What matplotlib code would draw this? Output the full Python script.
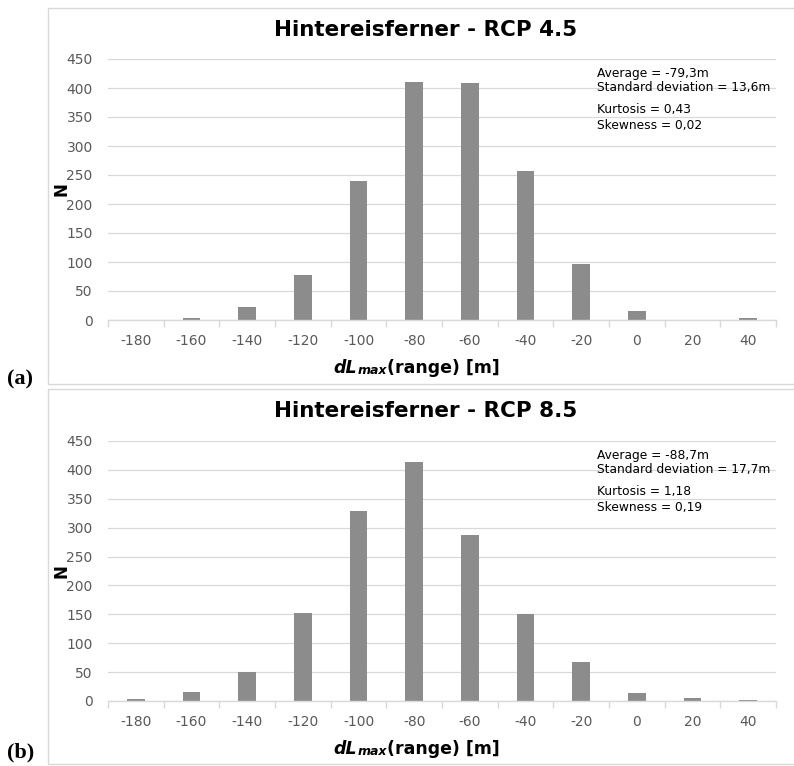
import matplotlib.pyplot as plt
from matplotlib.patches import Rectangle
import numpy as np

# dL_max class centres [m] and number of runs per class
bins = [-180, -160, -140, -120, -100, -80, -60, -40, -20, 0, 20, 40]
counts_rcp45 = [0, 3, 22, 77, 239, 410, 409, 257, 97, 15, 0, 4]
counts_rcp85 = [3, 15, 50, 153, 328, 414, 288, 150, 67, 14, 6, 2]

titles = ["Hintereisferner - RCP 4.5", "Hintereisferner - RCP 8.5"]
stats_top = [["Average = -79,3m", "Standard deviation = 13,6m"],
             ["Average = -88,7m", "Standard deviation = 17,7m"]]
stats_bottom = [["Kurtosis = 0,43", "Skewness = 0,02"],
                ["Kurtosis = 1,18", "Skewness = 0,19"]]
panel_tags = ["(a)", "(b)"]
yticks = list(range(0, 451, 50))

W, H = 794, 766
fig = plt.figure(figsize=(W / 100, H / 100), dpi=100)

BAR = "#8c8c8c"
GRID = "#d9d9d9"
TICK = "#595959"


def fx(px):
    return px / W


def fy(py):
    return 1 - py / H


# panel layout in pixels: (box top, box bottom, axes top, axes bottom, tag y)
layout = [(8, 384, 59, 320, 379), (389, 764, 441, 701, 752)]
series = [counts_rcp45, counts_rcp85]

ax_left, ax_right = 108, 776

for i, (btop, bbot, atop, abot, tag_y) in enumerate(layout):
    # chart area frame
    fig.patches.append(Rectangle((fx(47.5), fy(bbot)), fx(800 - 47.5), (bbot - btop) / H,
                                 transform=fig.transFigure, fill=False,
                                 edgecolor=GRID, lw=1.0))

    ax = fig.add_axes([fx(ax_left), fy(abot), fx(ax_right - ax_left), (abot - atop) / H])
    x = np.arange(len(bins))
    ax.bar(x, series[i], width=0.32, color=BAR, zorder=3)
    ax.set_xlim(-0.5, len(bins) - 0.5)
    ax.set_ylim(0, 450)
    ax.set_yticks(yticks)
    ax.set_yticklabels([str(v) for v in yticks])
    ax.set_xticks(x)
    ax.set_xticklabels([str(b) for b in bins])
    ax.set_xticks(np.arange(-0.5, len(bins), 1.0), minor=True)
    ax.tick_params(axis="x", which="major", length=0, pad=10, labelsize=10, labelcolor=TICK)
    ax.tick_params(axis="x", which="minor", length=5, color=GRID, width=1.0)
    ax.tick_params(axis="y", length=0, pad=11, labelsize=10, labelcolor=TICK)
    ax.grid(axis="y", color=GRID, lw=0.9, zorder=0)
    for s in ["top", "right", "left"]:
        ax.spines[s].set_visible(False)
    ax.spines["bottom"].set_color(GRID)
    ax.spines["bottom"].set_linewidth(1.0)
    ax.spines["bottom"].set_zorder(4)

    # title
    fig.text(fx(426), fy(btop + 22), titles[i], ha="center", va="center",
             fontsize=15.5, fontweight="bold", color="black")

    # statistics
    fs = 8.8
    fig.text(fx(597), fy(atop + 15), stats_top[i][0], ha="left", va="center",
             fontsize=fs, color="black")
    fig.text(fx(597), fy(atop + 29), stats_top[i][1], ha="left", va="center",
             fontsize=fs, color="black")
    fig.text(fx(597), fy(atop + 51), stats_bottom[i][0], ha="left", va="center",
             fontsize=fs, color="black")
    fig.text(fx(597), fy(atop + 66), stats_bottom[i][1], ha="left", va="center",
             fontsize=fs, color="black")

    # y label
    fig.text(fx(61), fy((atop + abot) / 2), "N", rotation=90, ha="center",
             va="center", fontsize=12, fontweight="bold", color="black")

    # x label: dL (bold italic) + max (small italic) + (range) [m]
    base_y = fy(abot + 53)
    t1 = fig.text(fx(333), base_y, "dL", ha="left", va="baseline", fontsize=12.5,
                  fontweight="bold", fontstyle="italic", color="black")
    a1 = plt.annotate("max", xy=(1, 0), xycoords=t1, xytext=(0.5, 0),
                      textcoords="offset points", ha="left", va="bottom",
                      fontsize=9, fontweight="bold", fontstyle="italic",
                      color="black", annotation_clip=False)
    plt.annotate("(range) [m]", xy=(1, 0), xycoords=a1, xytext=(0, 0),
                 textcoords="offset points", ha="left", va="bottom",
                 fontsize=12.5, fontweight="bold", color="black",
                 annotation_clip=False)

    # panel tag
    fig.text(fx(7), fy(tag_y), panel_tags[i], ha="left", va="center",
             fontsize=16, fontweight="bold", family="Liberation Serif", color="black")

fig.savefig("out.png", dpi=100)
